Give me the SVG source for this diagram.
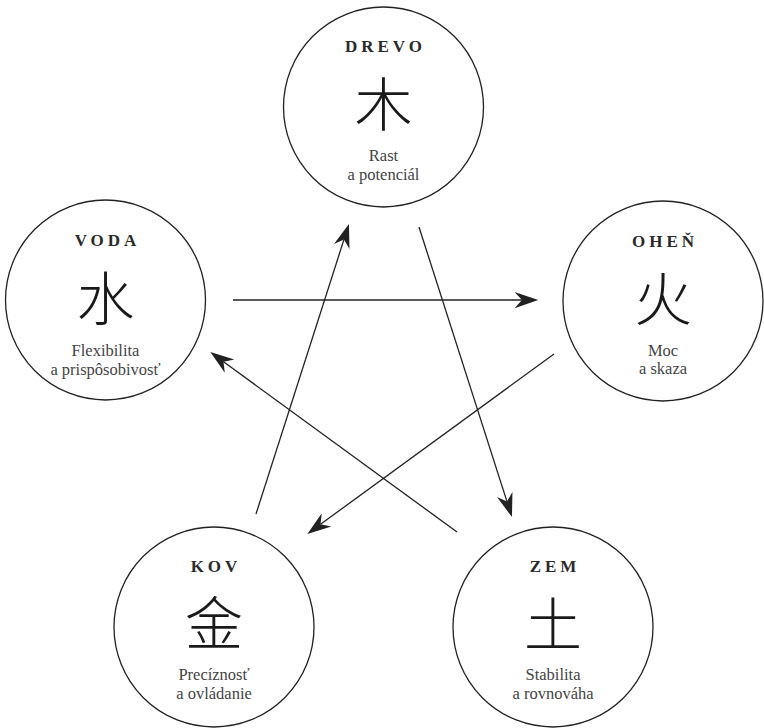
<svg xmlns="http://www.w3.org/2000/svg" width="764" height="728" viewBox="0 0 764 728">
<style>
.bg{fill:#ffffff}
circle.n{fill:#ffffff;stroke:#222222;stroke-width:1.3}
.t{font-family:"Liberation Serif","Times New Roman",serif;font-size:17px;font-weight:bold;letter-spacing:4px;fill:#2a2a2a;text-anchor:middle}
.c{font-family:"Noto Sans CJK SC","Noto Sans CJK JP",sans-serif;font-size:58px;font-weight:300;fill:#1a1a1a;text-anchor:middle;dominant-baseline:central}
.s{font-family:"Liberation Serif","Times New Roman",serif;font-size:16.5px;fill:#444444;text-anchor:middle}
.e{fill:none;stroke:#222222;stroke-width:1.3;marker-end:url(#ah)}
</style>
<defs>
<marker id="ah" markerUnits="userSpaceOnUse" markerWidth="30" markerHeight="20" viewBox="-8 -8 24 16" refX="0" refY="0" orient="auto">
<path d="M13,0 L-6,-6.5 L0,0 L-6,6.5 Z" fill="#222222"/>
</marker>
</defs>
<rect class="bg" x="0" y="0" width="764" height="728"/>
<g id="connectors">
<line class="e" x1="233" y1="300" x2="522" y2="300"/>
<line class="e" x1="256" y1="514" x2="344" y2="239.4"/>
<line class="e" x1="419" y1="227" x2="507" y2="501.6"/>
<line class="e" x1="554" y1="354" x2="320.5" y2="524.3"/>
<line class="e" x1="457" y1="532" x2="223.5" y2="361.7"/>
</g>
<g id="drevo">
<circle class="n" cx="383.5" cy="107" r="100"/>
<text class="t" x="385.5" y="52">DREVO</text>
<text class="c" x="383.5" y="101">木</text>
<text class="s" x="383.5" y="161">Rast</text>
<text class="s" x="383.5" y="180">a potenciál</text>
</g>
<g id="voda">
<circle class="n" cx="105.5" cy="300" r="100"/>
<text class="t" x="107.5" y="246">VODA</text>
<text class="c" x="105.5" y="295">水</text>
<text class="s" x="105.5" y="356">Flexibilita</text>
<text class="s" x="105.5" y="375">a prispôsobivosť</text>
</g>
<g id="ohen">
<circle class="n" cx="663" cy="301" r="100"/>
<text class="t" x="665" y="247">OHEŇ</text>
<text class="c" x="663" y="296">火</text>
<text class="s" x="663" y="356">Moc</text>
<text class="s" x="663" y="374">a skaza</text>
</g>
<g id="kov">
<circle class="n" cx="214" cy="627" r="100"/>
<text class="t" x="216" y="572">KOV</text>
<text class="c" x="214" y="620">金</text>
<text class="s" x="214" y="680">Precíznosť</text>
<text class="s" x="214" y="699">a ovládanie</text>
</g>
<g id="zem">
<circle class="n" cx="553" cy="627" r="100"/>
<text class="t" x="555" y="572">ZEM</text>
<text class="c" x="553" y="621">土</text>
<text class="s" x="553" y="680">Stabilita</text>
<text class="s" x="553" y="699">a rovnováha</text>
</g>
</svg>
